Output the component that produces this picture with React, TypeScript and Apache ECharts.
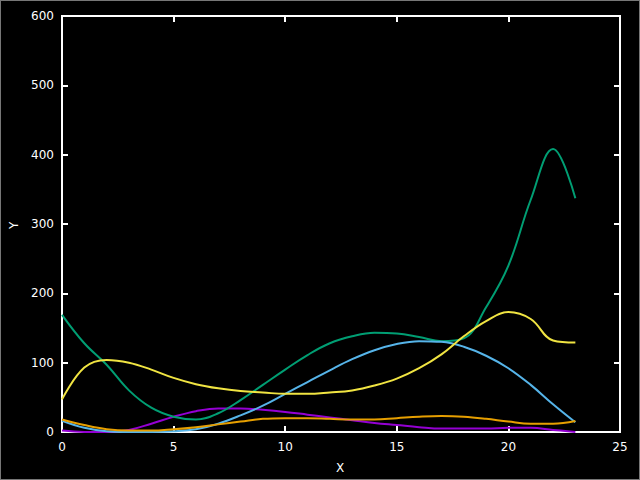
import React, { useEffect, useRef } from "react";
import * as echarts from "echarts";

const xValues = [0, 1, 2, 3, 4, 5, 6, 7, 8, 9, 10, 11, 12, 13, 14, 15, 16, 17, 18, 19, 20, 21, 22, 23];
const purple = [2, 0, 0, 3, 12, 22, 30, 34, 34, 32, 29, 25, 21, 17, 13, 10, 7, 5, 5, 5, 6, 6, 3, 0];
const green = [169, 128, 97, 60, 35, 22, 18, 27, 46, 68, 90, 111, 128, 138, 143, 142, 137, 131, 135, 180, 240, 335, 408, 337];
const blue = [16, 6, 1, 0, 0, 1, 4, 12, 24, 38, 55, 72, 89, 105, 118, 127, 131, 130, 123, 110, 92, 68, 40, 14];
const orange = [18, 10, 4, 2, 2, 4, 7, 11, 15, 19, 20, 20, 19, 18, 18, 20, 22, 23, 22, 19, 15, 12, 12, 16];
const yellow = [47, 93, 104, 100, 90, 78, 69, 63, 59, 57, 55, 55, 57, 60, 67, 77, 92, 112, 138, 160, 173, 163, 132, 129];

const seriesDefs = [
  { name: "1", color: "#9400D3", data: purple },
  { name: "2", color: "#009E73", data: green },
  { name: "3", color: "#56B4E9", data: blue },
  { name: "4", color: "#E69F00", data: orange },
  { name: "5", color: "#F0E442", data: yellow },
];

const GRID = { left: 62, right: 20, top: 16, bottom: 48 };
const PLOT_W = 640 - GRID.left - GRID.right;
const PLOT_H = 480 - GRID.top - GRID.bottom;

const mkLine = (show: boolean) => ({ show, onZero: false, lineStyle: { color: "white", width: 2 } });
const mkTick = (show: boolean) => ({ show, length: 6, lineStyle: { color: "white", width: 2 } });
const mkSplit = () => ({ show: true, lineStyle: { color: "rgba(0,0,0,0)", width: 0 } });

export default function App() {
  const ref = useRef<HTMLDivElement>(null);
  useEffect(() => {
    document.body.style.margin = "0";
    const chart = echarts.init(ref.current!, null, { renderer: "svg" });
    chart.setOption({
      animation: false,
      backgroundColor: "#000",
      textStyle: { fontFamily: "DejaVu Sans" },
      grid: { ...GRID, show: true, borderColor: "white", borderWidth: 2 },
      graphic: [
        { type: "text", left: 336, top: 462, style: { text: "X", fill: "white", fontSize: 12, fontFamily: "DejaVu Sans" } },
        { type: "text", x: 8, y: 229, rotation: Math.PI / 2, style: { text: "Y", fill: "white", fontSize: 12, fontFamily: "DejaVu Sans" } },
      ],
      xAxis: [
        {
          type: "value", min: 0, max: 25, interval: 5,
          axisLabel: { color: "white", fontSize: 12, margin: 9 },
          axisLine: mkLine(true), axisTick: mkTick(false), splitLine: mkSplit(),
        },
        { type: "value", min: 0, max: 25, interval: 5, position: "top", offset: -PLOT_H, axisLabel: { show: false }, axisLine: mkLine(false), axisTick: mkTick(true), splitLine: mkSplit() },
        { type: "value", min: 0, max: 25, interval: 5, position: "bottom", offset: -PLOT_H, axisLabel: { show: false }, axisLine: mkLine(true), axisTick: mkTick(true), splitLine: mkSplit() },
      ],
      yAxis: [
        {
          type: "value", min: 0, max: 600, interval: 100,
          axisLabel: { color: "white", fontSize: 12, margin: 8 },
          axisLine: mkLine(true), axisTick: mkTick(false), splitLine: mkSplit(),
        },
        { type: "value", min: 0, max: 600, interval: 100, position: "right", offset: -PLOT_W, axisLabel: { show: false }, axisLine: mkLine(false), axisTick: mkTick(true), splitLine: mkSplit() },
        { type: "value", min: 0, max: 600, interval: 100, position: "left", offset: -PLOT_W, axisLabel: { show: false }, axisLine: mkLine(true), axisTick: mkTick(true), splitLine: mkSplit() },
      ],
      series: seriesDefs.map((s) => ({
        type: "line",
        name: s.name,
        data: xValues.map((x, i) => [x, s.data[i]]),
        smooth: 0.4,
        showSymbol: false,
        lineStyle: { color: s.color, width: 2 },
        itemStyle: { color: s.color },
      })),
    });
    return () => chart.dispose();
  }, []);
  return (
    <div style={{ position: "fixed", left: 0, top: 0, width: 640, height: 480 }}>
      <div ref={ref} style={{ width: 640, height: 480 }} />
      <div
        style={{ position: "absolute", left: 0, top: 0, width: 640, height: 480, boxSizing: "border-box", border: "1px solid #777", pointerEvents: "none" }}
      />
    </div>
  );
}
